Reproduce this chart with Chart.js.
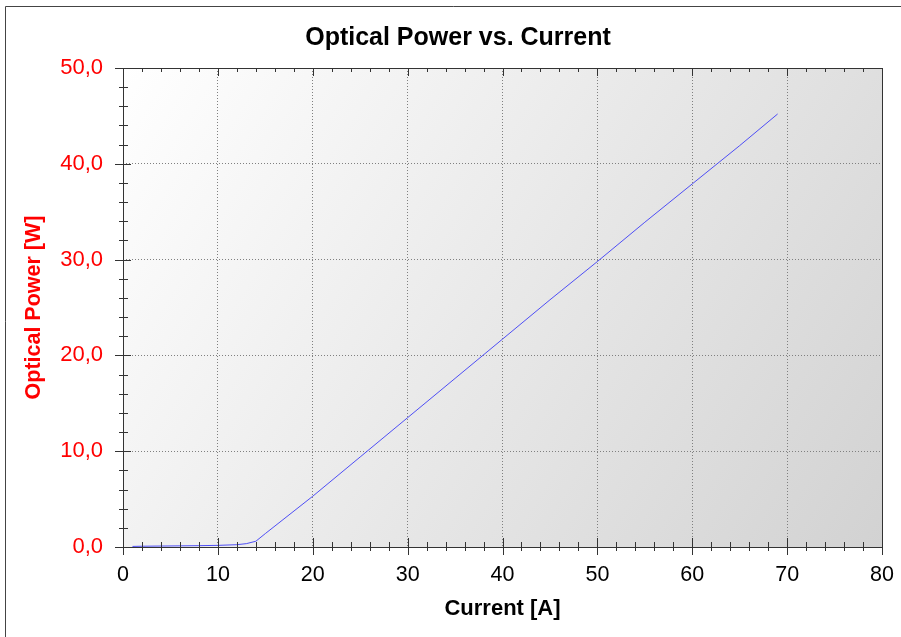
<!DOCTYPE html>
<html>
<head>
<meta charset="utf-8">
<script src="https://cdn.jsdelivr.net/npm/chart.js@4.4.1/dist/chart.umd.min.js"></script>
<style>
  body { margin: 0; background: #ffffff; }
  canvas { display: block; }
</style>
</head>
<body>
<canvas id="chart" width="901" height="637"></canvas>
<script>
// values
const currentA = [1, 2, 4, 6, 8, 10, 12, 13, 14, 15, 20, 25, 30, 35, 40, 45, 50, 55, 60, 65, 69];
const powerW = [0.06, 0.08, 0.1, 0.12, 0.14, 0.17, 0.24, 0.35, 0.6, 1.4, 5.3, 9.4, 13.5, 17.6, 21.7, 25.8, 29.8, 33.9, 37.9, 41.9, 45.2];

const xTickLabels = ['0', '10', '20', '30', '40', '50', '60', '70', '80'];
const yTickLabels = ['0,0', '10,0', '20,0', '30,0', '40,0', '50,0'];

const FONT = "'Liberation Sans', Arial, sans-serif";

// gradient fill, frame, plot border and major/minor tick marks
const decorPlugin = {
  id: 'decor',
  beforeDraw(chart) {
    const { ctx, chartArea: a } = chart;
    const g = ctx.createLinearGradient(a.left, a.top, a.right, a.bottom);
    g.addColorStop(0, '#ffffff');
    g.addColorStop(1, '#d2d2d2');
    ctx.save();
    ctx.fillStyle = g;
    ctx.fillRect(a.left, a.top, a.right - a.left, a.bottom - a.top);
    ctx.restore();
  },
  afterDraw(chart) {
    const { ctx, chartArea: a } = chart;
    const xs = chart.scales.x, ys = chart.scales.y;
    ctx.save();
    // outer frame (runs off the right / bottom of the picture)
    ctx.strokeStyle = '#444444';
    ctx.lineWidth = 1;
    ctx.beginPath();
    ctx.moveTo(5.5, chart.height);
    ctx.lineTo(5.5, 6.5);
    ctx.lineTo(chart.width, 6.5);
    ctx.stroke();

    // plot border
    ctx.strokeStyle = '#333333';
    ctx.strokeRect(Math.round(a.left) + 0.5, Math.round(a.top) + 0.5,
      Math.round(a.right - a.left), Math.round(a.bottom - a.top));

    ctx.beginPath();
    // x ticks
    for (let v = 0; v <= 80; v += 2) {
      const px = Math.round(xs.getPixelForValue(v)) + 0.5;
      const major = v % 10 === 0;
      const b = Math.round(a.bottom);
      const t = Math.round(a.top);
      ctx.moveTo(px, b - (major ? 9 : 5));
      ctx.lineTo(px, b + (major ? 8 : 4));
      ctx.moveTo(px, t);
      ctx.lineTo(px, t + (major ? 8 : 4));
    }
    // y ticks
    for (let v = 0; v <= 50; v += 2) {
      const py = Math.round(ys.getPixelForValue(v)) + 0.5;
      const major = v % 10 === 0;
      const l = Math.round(a.left);
      ctx.moveTo(l - (major ? 8 : 4), py);
      ctx.lineTo(l + (major ? 8 : 5), py);
    }
    ctx.stroke();
    ctx.restore();
  }
};

new Chart(document.getElementById('chart').getContext('2d'), {
  type: 'line',
  data: {
    datasets: [{
      label: 'Optical Power',
      data: currentA.map((c, i) => ({ x: c, y: powerW[i] })),
      borderColor: 'rgba(70, 70, 245, 0.95)',
      borderWidth: 1,
      pointRadius: 0,
      fill: false,
      tension: 0
    }]
  },
  options: {
    responsive: false,
    animation: false,
    layout: { padding: { left: 15, right: 0, top: 0, bottom: 0 } },
    plugins: {
      legend: { display: false },
      tooltip: { enabled: false },
      title: {
        display: true,
        text: 'Optical Power vs. Current',
        color: '#000000',
        font: { family: FONT, size: 25, weight: 'bold' },
        padding: { top: 23, bottom: 15 }
      }
    },
    scales: {
      x: {
        type: 'linear',
        min: 0,
        max: 80,
        afterFit(scale) {
          scale.height = 90;
          scale.paddingLeft = 0;
          scale.paddingRight = 0;
        },
        ticks: {
          stepSize: 10,
          color: '#000000',
          padding: 15,
          font: { family: FONT, size: 21.5 },
          callback: (v) => xTickLabels[v / 10]
        },
        grid: { color: '#808080', lineWidth: 1, drawTicks: false },
        border: { display: false, dash: [1, 2] },
        title: {
          display: true,
          text: 'Current [A]',
          color: '#000000',
          font: { family: FONT, size: 22, weight: 'bold' },
          padding: { top: 0, bottom: 15 }
        }
      },
      y: {
        type: 'linear',
        min: 0,
        max: 50,
        afterFit(scale) { scale.width = 108; },
        ticks: {
          stepSize: 10,
          color: '#ff0000',
          padding: 20,
          font: { family: FONT, size: 22 },
          callback: (v) => yTickLabels[v / 10]
        },
        grid: { color: '#808080', lineWidth: 1, drawTicks: false },
        border: { display: false, dash: [1, 2] },
        title: {
          display: true,
          text: 'Optical Power [W]',
          color: '#ff0000',
          font: { family: FONT, size: 21.5, weight: 'bold' },
          padding: { top: 6, bottom: 0 }
        }
      },
      y2: {
        type: 'linear',
        position: 'right',
        min: 0,
        max: 50,
        afterFit(scale) { scale.width = 19; },
        ticks: { display: false },
        grid: { display: false, drawTicks: false },
        border: { display: false }
      }
    }
  },
  plugins: [decorPlugin]
});
</script>
</body>
</html>
